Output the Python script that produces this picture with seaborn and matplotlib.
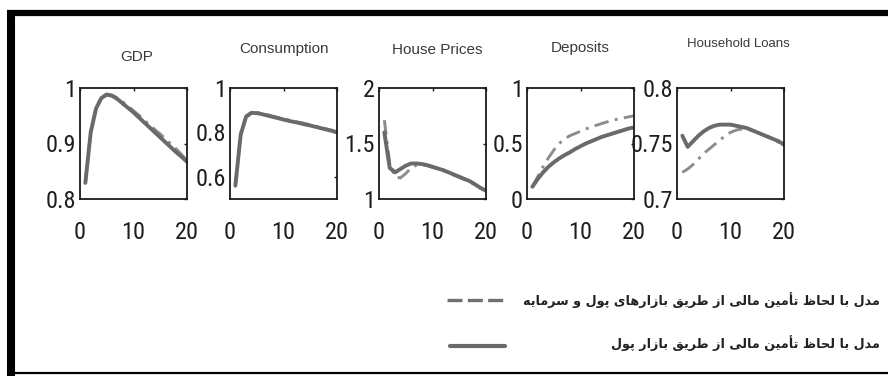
import numpy as np
import pandas as pd
import matplotlib
matplotlib.use("Agg")
import matplotlib.pyplot as plt
import seaborn as sns
from matplotlib import font_manager
from matplotlib.lines import Line2D
from matplotlib.ticker import FuncFormatter

# ---------------------------------------------------------------- data
periods = list(range(1, 21))

panel_titles = ["GDP", "Consumption", "House Prices", "Deposits", "Household Loans"]

gdp_money = [0.829, 0.920, 0.963, 0.982, 0.988, 0.986, 0.980, 0.972, 0.964, 0.956,
             0.947, 0.938, 0.929, 0.920, 0.911, 0.902, 0.893, 0.884, 0.876, 0.867]
gdp_capital = [0.829, 0.921, 0.965, 0.984, 0.989, 0.987, 0.982, 0.975, 0.967, 0.959,
               0.951, 0.942, 0.934, 0.925, 0.917, 0.908, 0.899, 0.890, 0.880, 0.869]

cons_money = [0.560, 0.790, 0.870, 0.888, 0.887, 0.882, 0.876, 0.870, 0.864, 0.858,
              0.852, 0.847, 0.842, 0.836, 0.831, 0.825, 0.819, 0.813, 0.807, 0.800]
cons_capital = [0.565, 0.795, 0.874, 0.891, 0.890, 0.885, 0.879, 0.873, 0.867, 0.861,
                0.856, 0.850, 0.845, 0.840, 0.834, 0.828, 0.822, 0.816, 0.810, 0.803]

house_money = [1.60, 1.28, 1.24, 1.27, 1.30, 1.32, 1.32, 1.315, 1.305, 1.29,
               1.275, 1.26, 1.24, 1.22, 1.20, 1.18, 1.16, 1.13, 1.10, 1.075]
house_capital = [1.71, 1.32, 1.20, 1.19, 1.23, 1.28, 1.305, 1.31, 1.30, 1.285,
                 1.27, 1.255, 1.235, 1.215, 1.195, 1.175, 1.155, 1.125, 1.095, 1.07]

dep_money = [0.11, 0.18, 0.24, 0.29, 0.33, 0.365, 0.395, 0.42, 0.45, 0.475,
             0.50, 0.52, 0.54, 0.56, 0.575, 0.59, 0.605, 0.62, 0.635, 0.645]
dep_capital = [0.11, 0.20, 0.29, 0.37, 0.44, 0.50, 0.54, 0.57, 0.59, 0.61,
               0.63, 0.65, 0.665, 0.68, 0.695, 0.71, 0.72, 0.73, 0.74, 0.75]

loans_money = [0.757, 0.747, 0.752, 0.757, 0.761, 0.764, 0.766, 0.767, 0.767, 0.767,
               0.766, 0.765, 0.764, 0.762, 0.760, 0.758, 0.756, 0.754, 0.752, 0.749]
loans_capital = [0.724, 0.727, 0.731, 0.736, 0.741, 0.745, 0.749, 0.753, 0.757, 0.760,
                 0.762, 0.763, 0.763, 0.762, 0.760, 0.758, 0.756, 0.754, 0.751, 0.748]

y_limits = [(0.8, 1.0), (0.5, 1.0), (1.0, 2.0), (0.0, 1.0), (0.7, 0.8)]
y_ticks = [[0.8, 0.9, 1.0], [0.6, 0.8, 1.0], [1.0, 1.5, 2.0], [0.0, 0.5, 1.0], [0.7, 0.75, 0.8]]
x_ticks = [0, 10, 20]

label_money = "مدل با لحاظ تأمین مالی از طریق بازار پول"
label_capital = "مدل با لحاظ تأمین مالی از طریق بازارهای پول و سرمایه"

money_series = [gdp_money, cons_money, house_money, dep_money, loans_money]
capital_series = [gdp_capital, cons_capital, house_capital, dep_capital, loans_capital]

frames = []
for title, m, c in zip(panel_titles, money_series, capital_series):
    frames.append(pd.DataFrame({"panel": title, "period": periods, "value": m, "model": "money"}))
    frames.append(pd.DataFrame({"panel": title, "period": periods, "value": c, "model": "capital"}))
df = pd.concat(frames, ignore_index=True)

# ------------------------------------------------- Persian text shaping
# presentation forms: (isolated, final, initial, medial)
FORMS = {
    "ا": ("\uFE8D", "\uFE8E", None, None),
    "أ": ("\uFE83", "\uFE84", None, None),
    "ب": ("\uFE8F", "\uFE90", "\uFE91", "\uFE92"),
    "پ": ("\uFB56", "\uFB57", "\uFB58", "\uFB59"),
    "ت": ("\uFE95", "\uFE96", "\uFE97", "\uFE98"),
    "ح": ("\uFEA1", "\uFEA2", "\uFEA3", "\uFEA4"),
    "د": ("\uFEA9", "\uFEAA", None, None),
    "ر": ("\uFEAD", "\uFEAE", None, None),
    "ز": ("\uFEAF", "\uFEB0", None, None),
    "س": ("\uFEB1", "\uFEB2", "\uFEB3", "\uFEB4"),
    "ط": ("\uFEC1", "\uFEC2", "\uFEC3", "\uFEC4"),
    "ظ": ("\uFEC5", "\uFEC6", "\uFEC7", "\uFEC8"),
    "ق": ("\uFED5", "\uFED6", "\uFED7", "\uFED8"),
    "ل": ("\uFEDD", "\uFEDE", "\uFEDF", "\uFEE0"),
    "م": ("\uFEE1", "\uFEE2", "\uFEE3", "\uFEE4"),
    "ن": ("\uFEE5", "\uFEE6", "\uFEE7", "\uFEE8"),
    "ه": ("\uFEE9", "\uFEEA", "\uFEEB", "\uFEEC"),
    "و": ("\uFEED", "\uFEEE", None, None),
    "ی": ("\uFBFC", "\uFBFD", "\uFBFE", "\uFBFF"),
}


def dual(ch):
    return ch in FORMS and FORMS[ch][2] is not None


def shape_rtl(text):
    out = []
    for i, ch in enumerate(text):
        if ch not in FORMS:
            out.append(ch)
            continue
        prev_ch = text[i - 1] if i > 0 else " "
        next_ch = text[i + 1] if i + 1 < len(text) else " "
        join_prev = dual(prev_ch)
        join_next = dual(ch) and next_ch in FORMS
        iso, fin, ini, med = FORMS[ch]
        if join_prev and join_next:
            out.append(med)
        elif join_prev:
            out.append(fin)
        elif join_next:
            out.append(ini)
        else:
            out.append(iso)
    return "".join(reversed(out))


# ---------------------------------------------------------------- style
sns.set_theme(style="white")
names = {f.name for f in font_manager.fontManager.ttflist}
tick_font = next((n for n in ["Liberation Sans Narrow", "Roboto Condensed",
                              "Open Sans Condensed", "Liberation Sans"] if n in names),
                 "DejaVu Sans")
plt.rcParams["font.family"] = ["Liberation Sans", "DejaVu Sans"]

W, H = 888, 376
fig = plt.figure(figsize=(W / 100, H / 100), dpi=100)
fig.patch.set_facecolor("white")

# panel placement in pixels: left edge, top, width, height
ax_left = [80, 230, 379, 527, 677]
ax_top, ax_w, ax_h = 88, 107, 111
title_pos = [(0.53, 1.28), (0.50, 1.35), (0.54, 1.34), (0.50, 1.36), (0.57, 1.40)]
title_size = [11, 11, 11, 11, 9.5]

solid_color = "#6a6a6a"
dash_color = "#8c8c8c"

fmt = FuncFormatter(lambda v, p: f"{v:g}")

for i, title in enumerate(panel_titles):
    ax = fig.add_axes([ax_left[i] / W, 1 - (ax_top + ax_h) / H, ax_w / W, ax_h / H])
    sub = df[df["panel"] == title]
    sns.lineplot(data=sub[sub["model"] == "capital"], x="period", y="value", ax=ax,
                 color=dash_color, lw=2.1, dashes=False, legend=False)
    ax.lines[-1].set_dashes((5, 2.2, 1, 2.2))
    sns.lineplot(data=sub[sub["model"] == "money"], x="period", y="value", ax=ax,
                 color=solid_color, lw=2.8, legend=False)
    ax.set_xlim(0, 20)
    ax.set_ylim(*y_limits[i])
    ax.set_xticks(x_ticks)
    ax.set_yticks(y_ticks[i])
    ax.xaxis.set_major_formatter(fmt)
    ax.yaxis.set_major_formatter(fmt)
    ax.set_xlabel("")
    ax.set_ylabel("")
    for s in ax.spines.values():
        s.set_color("#1a1a1a")
        s.set_linewidth(1.3)
    ax.tick_params(axis="both", direction="in", length=2.5, width=1,
                   color="#1a1a1a", labelcolor="#1e1e1e",
                   top=True, right=True, labelsize=17.5)
    ax.tick_params(axis="x", pad=16)
    ax.tick_params(axis="y", pad=3)
    for lab in ax.get_xticklabels() + ax.get_yticklabels():
        lab.set_family(tick_font)
    tx, ty = title_pos[i]
    ax.text(tx, ty, title, transform=ax.transAxes, ha="center", va="center",
            fontsize=title_size[i], color="#3a3a3a")

# legend: line samples on the left, Persian labels right-aligned
fig.add_artist(Line2D([447 / W, 503 / W], [1 - 300 / H, 1 - 300 / H],
                      transform=fig.transFigure, color="#707070", lw=2.4,
                      dashes=(4.5, 1.6)))
fig.add_artist(Line2D([450 / W, 505 / W], [1 - 346 / H, 1 - 346 / H],
                      transform=fig.transFigure, color="#6a6a6a", lw=3.0))
fig.text(880 / W, 1 - 300 / H, shape_rtl(label_capital), ha="right", va="center",
         fontsize=9.2, fontweight="bold", color="#222222", family=["DejaVu Sans"])
fig.text(880 / W, 1 - 343 / H, shape_rtl(label_money), ha="right", va="center",
         fontsize=9.2, fontweight="bold", color="#222222", family=["DejaVu Sans"])

# outer frame
fig.add_artist(Line2D([7 / W, 1.0], [1 - 13 / H, 1 - 13 / H], transform=fig.transFigure,
                      color="black", lw=4.5, solid_capstyle="butt"))
fig.add_artist(Line2D([11 / W, 11 / W], [1 - 10 / H, 0.0], transform=fig.transFigure,
                      color="black", lw=5.8, solid_capstyle="butt"))
fig.add_artist(Line2D([7 / W, 1.0], [1 - 373 / H, 1 - 373 / H], transform=fig.transFigure,
                      color="black", lw=1.6, solid_capstyle="butt"))

fig.savefig("out.png", dpi=100, facecolor="white")
